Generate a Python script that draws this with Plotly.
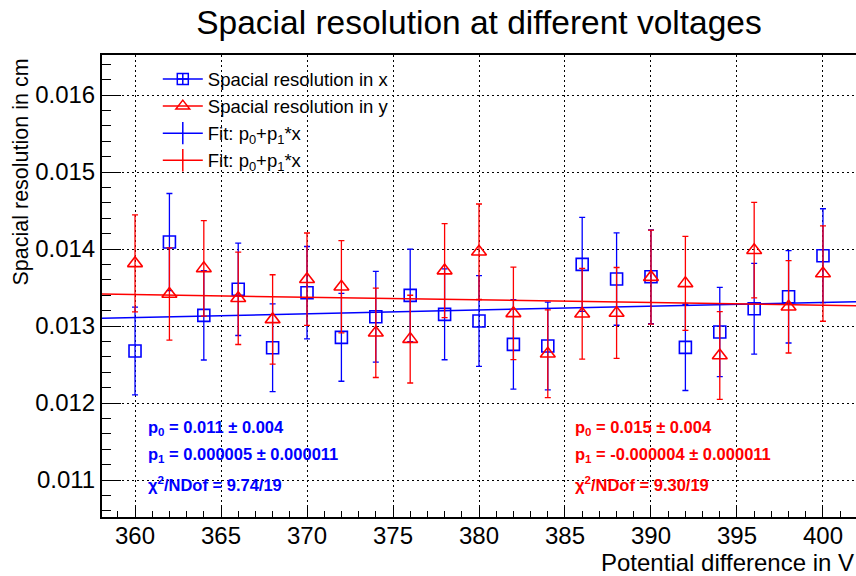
import plotly.graph_objects as go

# ---- data ----
voltage = [360, 362, 364, 366, 368, 370, 372, 374, 376, 378, 380,
           382, 384, 386, 388, 390, 392, 394, 396, 398, 400]

res_x = [0.012675, 0.014091, 0.013139, 0.013477, 0.012719, 0.013433, 0.012853,
         0.013121, 0.013398, 0.013152, 0.013065, 0.012762, 0.012740, 0.013801,
         0.013610, 0.013640, 0.012723, 0.012922, 0.013225, 0.013380, 0.013913]
err_x = [0.00057, 0.00063, 0.00058, 0.00060, 0.00057, 0.00060, 0.00057,
         0.00059, 0.00060, 0.00059, 0.00059, 0.00058, 0.00057, 0.00061,
         0.00060, 0.00061, 0.00056, 0.00058, 0.00059, 0.00060, 0.00061]

res_y = [0.013814, 0.013416, 0.013749, 0.013360, 0.013086, 0.013608, 0.013510,
         0.012912, 0.012830, 0.013720, 0.013965, 0.013165, 0.012640, 0.013160,
         0.013170, 0.013635, 0.013554, 0.012617, 0.013985, 0.013250, 0.013682]
err_y = [0.00063, 0.00060, 0.00062, 0.00060, 0.00058, 0.00060, 0.00060,
         0.00058, 0.00057, 0.00061, 0.00062, 0.00060, 0.00057, 0.00059,
         0.00059, 0.00061, 0.00061, 0.00057, 0.00062, 0.00060, 0.00062]

# fit parameters (linear fit p0 + p1*x) as drawn
fit_x_p0, fit_x_p1 = 0.011335, 4.93e-6
fit_y_p0, fit_y_p1 = 0.014647, -3.44e-6

x_range = [358.08, 401.92]
y_range = [0.01052, 0.01652]

stats_x = ["p<sub>0</sub> = 0.011 ± 0.004",
           "p<sub>1</sub> = 0.000005 ± 0.000011",
           "χ<sup>2</sup>/NDof = 9.74/19"]
stats_y = ["p<sub>0</sub> = 0.015 ± 0.004",
           "p<sub>1</sub> = -0.000004 ± 0.000011",
           "χ<sup>2</sup>/NDof = 9.30/19"]

BLUE = "#0000ff"
RED = "#ff0000"
FONT = "Liberation Sans, Arial, Helvetica, sans-serif"

fig = go.Figure()

def fit_line(p0, p1):
    xs = [x_range[0], x_range[1]]
    return xs, [p0 + p1 * v for v in xs]

# blue data + fit
fig.add_trace(go.Scatter(
    x=voltage, y=res_x, mode="markers", showlegend=False,
    marker=dict(symbol="square-open", size=12, color=BLUE, line=dict(width=1.6, color=BLUE)),
    error_y=dict(type="data", array=err_x, visible=True, color=BLUE, thickness=1.3, width=3),
))
fx, fy = fit_line(fit_x_p0, fit_x_p1)
fig.add_trace(go.Scatter(x=fx, y=fy, mode="lines", showlegend=False,
                         line=dict(color=BLUE, width=1.5)))

# red data + fit
fig.add_trace(go.Scatter(
    x=voltage, y=res_y, mode="markers", showlegend=False,
    marker=dict(symbol="triangle-up-open", size=13, color=RED, line=dict(width=1.6, color=RED)),
    error_y=dict(type="data", array=err_y, visible=True, color=RED, thickness=1.3, width=3),
))
fx, fy = fit_line(fit_y_p0, fit_y_p1)
fig.add_trace(go.Scatter(x=fx, y=fy, mode="lines", showlegend=False,
                         line=dict(color=RED, width=1.5)))

# legend entries
fig.add_trace(go.Scatter(x=[None], y=[None], mode="lines+markers",
                         name="Spacial resolution in x",
                         marker=dict(symbol="square-cross-open", size=11, color=BLUE, line=dict(width=1.5, color=BLUE)),
                         line=dict(color=BLUE, width=1.5)))
fig.add_trace(go.Scatter(x=[None], y=[None], mode="lines+markers",
                         name="Spacial resolution in y",
                         marker=dict(symbol="triangle-up-open", size=12, color=RED, line=dict(width=1.5, color=RED)),
                         line=dict(color=RED, width=1.5)))
fig.add_trace(go.Scatter(x=[None], y=[None], mode="lines+markers",
                         name="Fit: p<sub>0</sub>+p<sub>1</sub>*x",
                         marker=dict(symbol="line-ns-open", size=16, color=BLUE, line=dict(width=1.5, color=BLUE)),
                         line=dict(color=BLUE, width=1.5)))
fig.add_trace(go.Scatter(x=[None], y=[None], mode="lines+markers",
                         name="Fit: p<sub>0</sub>+p<sub>1</sub>*x",
                         marker=dict(symbol="line-ns-open", size=16, color=RED, line=dict(width=1.5, color=RED)),
                         line=dict(color=RED, width=1.5)))

ann = []
ys = [0.193, 0.135, 0.071]
for i, t in enumerate(stats_x):
    ann.append(dict(text="<b>" + t + "</b>", xref="paper", yref="paper", x=0.059, y=ys[i],
                    xanchor="left", yanchor="middle", showarrow=False,
                    font=dict(family=FONT, size=16.5, color=BLUE)))
for i, t in enumerate(stats_y):
    ann.append(dict(text="<b>" + t + "</b>", xref="paper", yref="paper", x=0.6245, y=ys[i],
                    xanchor="left", yanchor="middle", showarrow=False,
                    font=dict(family=FONT, size=16.5, color=RED)))
# axis titles (ROOT style: right-aligned)
ann.append(dict(text="Potential difference in V", xref="paper", yref="paper", x=1.0, y=0,
                xanchor="right", yanchor="top", yshift=-30, showarrow=False,
                font=dict(family=FONT, size=24, color="black")))
ann.append(dict(text="Spacial resolution in cm", xref="paper", yref="paper", x=0, y=1,
                xanchor="right", yanchor="top", xshift=-68, yshift=-2, textangle=-90,
                showarrow=False, font=dict(family=FONT, size=21.5, color="black")))

fig.update_layout(
    width=856, height=576,
    margin=dict(l=102, r=0, t=55, b=59),
    paper_bgcolor="white", plot_bgcolor="white",
    font=dict(family=FONT, color="black"),
    title=dict(text="Spacial resolution at different voltages", x=0.5, xref="paper",
               y=0.962, yanchor="middle", font=dict(family=FONT, size=33.5, color="black")),
    showlegend=True,
    legend=dict(x=0.074, y=0.988, xanchor="left", yanchor="top",
                bgcolor="rgba(255,255,255,0)", borderwidth=0,
                font=dict(family=FONT, size=18.5, color="black"),
                itemwidth=40, tracegroupgap=0),
    annotations=ann,
    xaxis=dict(range=x_range, tickmode="linear", tick0=360, dtick=5,
               ticks="inside", ticklen=12, tickwidth=1.2, tickcolor="black",
               showline=True, linecolor="black", linewidth=2, mirror=True,
               showgrid=True, gridcolor="black", gridwidth=1, griddash="2px,3px",
               zeroline=False, ticklabelstandoff=-4,
               tickfont=dict(family=FONT, size=24, color="black"),
               minor=dict(ticks="inside", ticklen=6, dtick=1, tickcolor="black", tickwidth=1, showgrid=False)),
    yaxis=dict(range=y_range, tickmode="linear", tick0=0, dtick=0.001, tickformat=".3f",
               ticks="inside", ticklen=19, tickwidth=1.2, tickcolor="black",
               showline=True, linecolor="black", linewidth=2, mirror=False,
               showgrid=True, gridcolor="black", gridwidth=1, griddash="2px,3px",
               zeroline=False,
               tickfont=dict(family=FONT, size=24, color="black"),
               minor=dict(ticks="inside", ticklen=9, dtick=0.0002, tickcolor="black", tickwidth=1, showgrid=False)),
)

fig.write_html("out.html")
